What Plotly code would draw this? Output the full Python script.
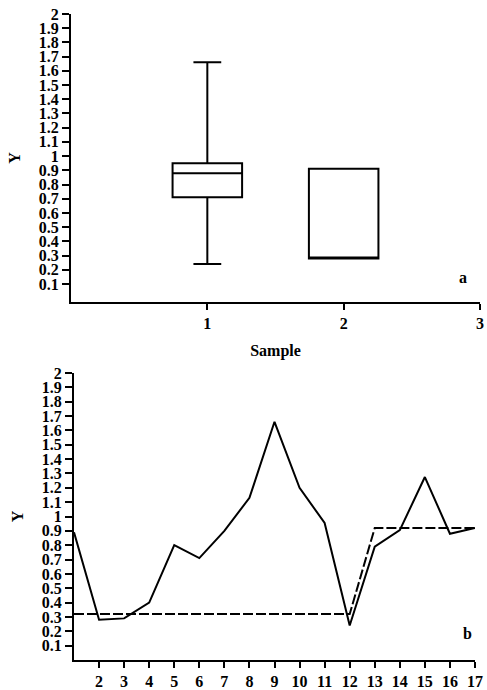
import plotly.graph_objects as go

# ---- data ----
box_positions = [1, 2]
box_q1 = [0.71, 0.28]
box_median = [0.88, 0.28]
box_q3 = [0.95, 0.91]
box_lower = [0.24, 0.28]
box_upper = [1.66, 0.91]

line_x = list(range(1, 18))
solid_y = [0.89, 0.28, 0.29, 0.40, 0.80, 0.71, 0.90, 1.13, 1.66, 1.20,
           0.955, 0.24, 0.79, 0.905, 1.275, 0.88, 0.92]
dashed_y = [0.32] * 12 + [0.92] * 5

y_tickvals = [round(0.1 * i, 1) for i in range(1, 21)]
y_ticktext = ["0.1", "0.2", "0.3", "0.4", "0.5", "0.6", "0.7", "0.8", "0.9", "1",
              "1.1", "1.2", "1.3", "1.4", "1.5", "1.6", "1.7", "1.8", "1.9", "2"]
top_xticks = [1, 2, 3]
bottom_xticks = list(range(2, 18))

FONT = "Liberation Serif"
W, H = 487, 690

fig = go.Figure()

for i in range(len(box_positions)):
    fig.add_trace(go.Box(
        x=[box_positions[i]], q1=[box_q1[i]], median=[box_median[i]], q3=[box_q3[i]],
        lowerfence=[box_lower[i]], upperfence=[box_upper[i]],
        width=0.51, whiskerwidth=0.4,
        line=dict(color="black", width=2), fillcolor="white",
        boxpoints=False, showlegend=False, xaxis="x", yaxis="y",
        hoverinfo="skip"))

fig.add_trace(go.Scatter(x=line_x, y=dashed_y, mode="lines",
                         line=dict(color="black", width=2, dash="10px,3px"),
                         showlegend=False, xaxis="x2", yaxis="y2"))
fig.add_trace(go.Scatter(x=line_x, y=solid_y, mode="lines",
                         line=dict(color="black", width=2),
                         showlegend=False, xaxis="x2", yaxis="y2"))

tickfont_y = dict(family=FONT, size=16, color="black", weight="bold")
tickfont_x = dict(family=FONT, size=16, color="black", weight="bold")
title_font = dict(family=FONT, size=16, color="black", weight="bold")

common_axis = dict(showgrid=False, zeroline=False, showline=True, linecolor="black",
                   linewidth=2, ticks="outside", tickwidth=2, tickcolor="black",
                   automargin=False)

fig.update_layout(
    width=W, height=H,
    margin=dict(l=0, r=0, t=0, b=0),
    paper_bgcolor="white", plot_bgcolor="white",
    xaxis=dict(domain=[71 / W, 480 / W], range=[0, 3], tickvals=top_xticks,
               ticklen=6, tickfont=tickfont_x, anchor="y",
               title=dict(text="Sample", font=title_font, standoff=14),
               **common_axis),
    yaxis=dict(domain=[1 - 302 / H, 1 - 14 / H], range=[-0.027, 2], tickvals=y_tickvals,
               ticktext=y_ticktext, ticklen=7, tickfont=tickfont_y, anchor="x",
               title=dict(text="Y", font=title_font, standoff=14),
               **common_axis),
    xaxis2=dict(domain=[74 / W, 475 / W], range=[1, 17], tickvals=bottom_xticks,
                ticklen=6, tickfont=tickfont_x, anchor="y2", **common_axis),
    yaxis2=dict(domain=[1 - 660 / H, 1 - 373 / H], range=[0, 2], tickvals=y_tickvals,
                ticktext=y_ticktext, ticklen=7, tickfont=tickfont_y, anchor="x2",
                title=dict(text="Y", font=title_font, standoff=14),
                **common_axis),
    annotations=[
        dict(text="a", x=463 / W, y=1 - 277 / H, xref="paper", yref="paper",
             xanchor="center", yanchor="middle",
             showarrow=False, font=title_font),
        dict(text="b", x=467 / W, y=1 - 633 / H, xref="paper", yref="paper",
             xanchor="center", yanchor="middle",
             showarrow=False, font=title_font),
    ],
)

fig.write_html("out.html", config={"displayModeBar": False},
               post_script="document.body.style.margin='0';document.body.style.overflow='hidden';")
